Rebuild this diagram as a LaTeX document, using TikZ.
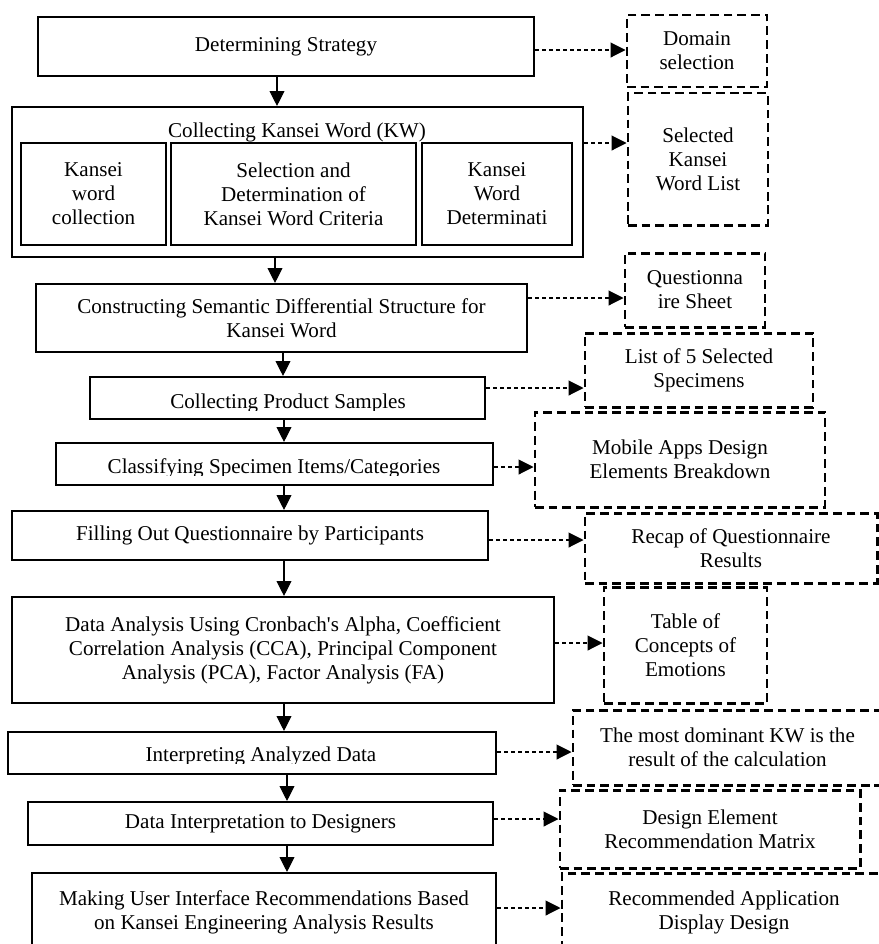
\documentclass[tikz,border=0pt]{standalone}
\usepackage{fontspec}
\setmainfont{Liberation Serif}
\usepackage{tikz}
\usetikzlibrary{arrows.meta}

\begin{document}
\begin{tikzpicture}[
    x=0.02cm, y=-0.02cm,
    every node/.style={font=\fontsize{12}{13.7}\selectfont},
    boxsize/.style 2 args={minimum width=#1*0.02cm, minimum height=#2*0.02cm},
    procbox/.style={draw, line width=1.2pt, inner sep=0pt, align=center},
    outbox/.style={draw, line width=1.7pt, dash pattern=on 5pt off 2.8pt, inner sep=0pt, align=center},
    arr/.style={-{Triangle[length=8.5pt, width=8.5pt]}, line width=0.6pt},
    darr/.style={arr, dash pattern=on 2.3pt off 1.7pt}
]
\clip (0,0) rectangle (879,944);

% Process steps (left column)
\node[procbox, boxsize={496}{59}] (b1) at (286,46.5) {Determining Strategy};
\node[procbox, boxsize={571}{150}] (b2) at (297.5,182) {};
\node (b2t) at (297,132) {Collecting Kansei Word (KW)};
\node[procbox, boxsize={145}{102}] (b2a) at (93.5,194) {Kansei\\word\\collection};
\node[procbox, boxsize={245}{102}] (b2b) at (293.5,194) {Selection and\\Determination of\\Kansei Word Criteria};
\node[procbox, boxsize={150}{102}] (b2c) at (497,194) {Kansei\\Word\\Determinati};
\node[procbox, boxsize={491}{68}] (b3) at (281.5,318) {Constructing Semantic Differential Structure for\\Kansei Word};
\node[procbox, boxsize={395}{42}] (b4) at (287.5,398) {};
\node[procbox, boxsize={437}{42}] (b5) at (274.5,464) {};
\node[procbox, boxsize={476}{49}] (b6) at (250,535.5) {Filling Out Questionnaire by Participants};
\node[procbox, boxsize={542}{106}] (b7) at (283,650) {Data Analysis Using Cronbach\textquotesingle s Alpha, Coefficient\\Correlation Analysis (CCA), Principal Component\\Analysis (PCA), Factor Analysis (FA)};
\node[procbox, boxsize={488}{42}] (b8) at (252,753) {};
\node[procbox, boxsize={465}{43}] (b9) at (260.5,823.5) {Data Interpretation to Designers};
\node[procbox, boxsize={464}{79}] (b10) at (264,912.5) {Making User Interface Recommendations Based\\on Kansei Engineering Analysis Results};

% texts cut off by their boxes
\begin{scope}
  \clip (b4.north west) rectangle (485,410);
  \node[anchor=base] (b4t) at (288,408) {Collecting Product Samples};
\end{scope}
\begin{scope}
  \clip (b5.north west) rectangle (493,475);
  \node[anchor=base] (b5t) at (274,473) {Classifying Specimen Items/Categories};
\end{scope}
\begin{scope}
  \clip (b8.north west) rectangle (496,763);
  \node[anchor=base] (b8t) at (261,761) {Interpreting Analyzed Data};
\end{scope}

% Outputs (right column)
\node[outbox, boxsize={140}{72}] (o1) at (697,51) {Domain\\selection};
\node[outbox, boxsize={140}{132}] (o2) at (698,159) {Selected\\Kansei\\Word List};
\node[outbox, boxsize={140}{74}] (o3) at (695,290) {Questionna\\ire Sheet};
\node[outbox, boxsize={228}{74}] (o4) at (699,370) {List of 5 Selected\\Specimens};
\node[outbox, boxsize={290}{95}] (o5) at (680,459.5) {Mobile Apps Design\\Elements Breakdown};
\node[outbox, boxsize={292}{70}] (o6) at (731,548) {Recap of Questionnaire\\Results};
\node[outbox, boxsize={163}{116}] (o7) at (685.5,645) {Table of\\Concepts of\\Emotions};
\node[outbox, boxsize={309}{75}] (o8) at (727.5,747.5) {The most dominant KW is the\\result of the calculation};
\node[outbox, boxsize={300}{78}] (o9) at (710,829) {Design Element\\Recommendation Matrix};
\node[outbox, boxsize={324}{79}] (o10) at (724,912.5) {Recommended Application\\Display Design};

% flow
\draw[arr] (b1.south -| 277,0) -- (b2.north -| 277,0);
\draw[arr] (b2.south -| 275,0) -- (b3.north -| 275,0);
\draw[arr] (b3.south -| 283,0) -- (b4.north -| 283,0);
\draw[arr] (b4.south -| 284,0) -- (b5.north -| 284,0);
\draw[arr] (b5.south -| 284,0) -- (b6.north -| 284,0);
\draw[arr] (b6.south -| 284,0) -- (b7.north -| 284,0);
\draw[arr] (b7.south -| 284,0) -- (b8.north -| 284,0);
\draw[arr] (b8.south -| 287,0) -- (b9.north -| 287,0);
\draw[arr] (b9.south -| 287,0) -- (b10.north -| 287,0);

% results
\draw[darr] (b1.east |- 0,50) -- (o1.west |- 0,50);
\draw[darr] (b2.east |- 0,143) -- (o2.west |- 0,143);
\draw[darr] (b3.east |- 0,298) -- (o3.west |- 0,298);
\draw[darr] (b4.east |- 0,388) -- (o4.west |- 0,388);
\draw[darr] (b5.east |- 0,467) -- (o5.west |- 0,467);
\draw[darr] (b6.east |- 0,540) -- (o6.west |- 0,540);
\draw[darr] (b7.east |- 0,643) -- (o7.west |- 0,643);
\draw[darr] (b8.east |- 0,752) -- (o8.west |- 0,752);
\draw[darr] (b9.east |- 0,819) -- (o9.west |- 0,819);
\draw[darr] (b10.east |- 0,908) -- (o10.west |- 0,908);

\end{tikzpicture}
\end{document}
